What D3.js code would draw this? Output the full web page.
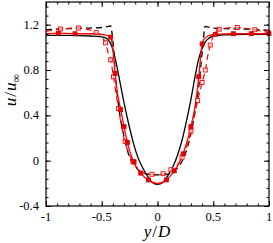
<!DOCTYPE html>
<html>
<head>
<meta charset="utf-8">
<script src="https://cdnjs.cloudflare.com/ajax/libs/d3/7.8.5/d3.min.js"></script>
<style>
  body { margin: 0; background: #fff; }
  text { font-family: "Liberation Serif", "DejaVu Serif", serif; fill: #000; }
</style>
</head>
<body>
<div id="chart"></div>
<script>
// profiles of u/u_inf across the wake, y/D from -1 to 1
const blackSolid = [
  [-1.0, 1.105], [-0.8, 1.105], [-0.6, 1.10], [-0.52, 1.095], [-0.47, 1.085], [-0.43, 1.05],
  [-0.40, 0.98], [-0.37, 0.86], [-0.34, 0.71], [-0.30, 0.51], [-0.26, 0.33], [-0.22, 0.17],
  [-0.18, 0.04], [-0.14, -0.05], [-0.10, -0.12], [-0.05, -0.19], [0, -0.21], [0.05, -0.19],
  [0.10, -0.12], [0.14, -0.05], [0.18, 0.05], [0.22, 0.18], [0.26, 0.35], [0.30, 0.54],
  [0.34, 0.76], [0.37, 0.90], [0.40, 0.99], [0.43, 1.05], [0.46, 1.08], [0.50, 1.10],
  [0.6, 1.11], [0.8, 1.115], [1.0, 1.115]
];

const blackDashed = [
  [-1.0, 1.155], [-0.8, 1.165], [-0.6, 1.17], [-0.5, 1.175], [-0.44, 1.185], [-0.42, 1.19],
  [-0.41, 1.14], [-0.395, 1.0], [-0.38, 0.8], [-0.364, 0.61], [-0.34, 0.42], [-0.30, 0.21],
  [-0.25, 0.03], [-0.20, -0.05], [-0.15, -0.10], [-0.08, -0.12], [0, -0.125], [0.08, -0.12],
  [0.15, -0.09], [0.20, -0.04], [0.25, 0.06], [0.30, 0.24], [0.34, 0.45], [0.37, 0.65],
  [0.39, 0.85], [0.41, 1.05], [0.425, 1.185], [0.45, 1.18], [0.5, 1.17], [0.6, 1.165],
  [0.8, 1.16], [1.0, 1.15]
];

const redSolid = [
  [-1.0, 1.12], [-0.89, 1.125], [-0.74, 1.12], [-0.58, 1.12], [-0.47, 1.11], [-0.42, 1.09],
  [-0.40, 0.98], [-0.38, 0.77], [-0.36, 0.60], [-0.33, 0.45], [-0.30, 0.30], [-0.27, 0.16],
  [-0.23, 0.03], [-0.20, -0.04], [-0.15, -0.11], [-0.10, -0.16], [-0.05, -0.19], [0, -0.20],
  [0.05, -0.19], [0.10, -0.15], [0.15, -0.09], [0.20, -0.01], [0.25, 0.12], [0.30, 0.30],
  [0.34, 0.50], [0.37, 0.74], [0.39, 0.95], [0.41, 1.06], [0.45, 1.10], [0.52, 1.115],
  [0.68, 1.12], [0.84, 1.12], [1.0, 1.12]
];
const redSolidMarks = [
  [-0.89, 1.125], [-0.74, 1.12], [-0.42, 1.09], [-0.38, 0.77],
  [-0.33, 0.45], [-0.30, 0.30], [-0.27, 0.16], [-0.21, -0.01], [-0.15, -0.11], [-0.08, -0.17],
  [0.08, -0.17], [0.15, -0.09], [0.23, 0.06], [0.30, 0.30], [0.37, 0.74], [0.40, 1.03],
  [0.52, 1.115], [0.68, 1.12], [0.84, 1.12], [1.0, 1.12]
];

const redDashed = [
  [-1.0, 1.14], [-0.87, 1.162], [-0.71, 1.17], [-0.55, 1.13], [-0.50, 1.09], [-0.466, 1.04],
  [-0.44, 0.94], [-0.42, 0.89], [-0.395, 0.74], [-0.37, 0.58], [-0.34, 0.40], [-0.31, 0.24],
  [-0.27, 0.10], [-0.22, -0.01], [-0.15, -0.09], [-0.08, -0.12], [0, -0.125], [0.08, -0.11],
  [0.15, -0.07], [0.22, 0.03], [0.28, 0.18], [0.32, 0.35], [0.36, 0.53], [0.40, 0.69],
  [0.43, 0.80], [0.45, 0.92], [0.473, 1.02], [0.50, 1.10], [0.553, 1.16], [0.715, 1.175],
  [0.873, 1.155], [1.0, 1.13]
];
const redDashedMarks = [
  [-0.87, 1.162], [-0.71, 1.17], [-0.55, 1.13], [-0.466, 1.04], [-0.42, 0.89], [-0.395, 0.74],
  [-0.35, 0.46], [-0.29, 0.17], [-0.22, -0.01], [-0.05, -0.12], [0.05, -0.115], [0.12, -0.08],
  [0.22, 0.03], [0.30, 0.26], [0.36, 0.53], [0.40, 0.69], [0.428, 0.80], [0.473, 1.02],
  [0.553, 1.16], [0.715, 1.175], [0.873, 1.155], [0.993, 1.13]
];

const xTicks = [-1, -0.5, 0, 0.5, 1];
const yTicks = [-0.4, 0, 0.4, 0.8, 1.2];

const width = 273;
const height = 243;
const plotLeft = 46, plotRight = 269, plotTop = 2, plotBottom = 206;

const xScale = d3.scaleLinear().domain([-1, 1]).range([plotLeft, plotRight]);
const yScale = d3.scaleLinear().domain([-0.4, 1.4]).range([plotBottom, plotTop]);

const svg = d3.select("#chart")
              .append("svg")
              .attr("width", width)
              .attr("height", height)

const line = d3.line()
               .x(d => xScale(d[0]))
               .y(d => yScale(d[1]))
               .curve(d3.curveMonotoneX)

const plot = svg.append("g")

plot.append("path")
    .datum(blackSolid)
    .attr("d", line)
    .attr("fill", "none")
    .attr("stroke", "#000")
    .attr("stroke-width", 1.3)

plot.append("path")
    .datum(blackDashed)
    .attr("d", line)
    .attr("fill", "none")
    .attr("stroke", "#000")
    .attr("stroke-width", 1.3)
    .attr("stroke-dasharray", "6,4")

plot.append("path")
    .datum(redDashed)
    .attr("d", line)
    .attr("fill", "none")
    .attr("stroke", "#f00")
    .attr("stroke-width", 1.2)
    .attr("stroke-dasharray", "6,4")

plot.append("path")
    .datum(redSolid)
    .attr("d", line)
    .attr("fill", "none")
    .attr("stroke", "#f00")
    .attr("stroke-width", 1.3)

const sq = 4;
plot.selectAll(".open")
    .data(redDashedMarks)
    .enter()
    .append("rect")
    .attr("class", "open")
    .attr("x", d => xScale(d[0]) - sq / 2)
    .attr("y", d => yScale(d[1]) - sq / 2)
    .attr("width", sq)
    .attr("height", sq)
    .attr("fill", "#fff")
    .attr("fill-opacity", 0.6)
    .attr("stroke", "#f00")
    .attr("stroke-width", 0.9)

plot.selectAll(".filled")
    .data(redSolidMarks)
    .enter()
    .append("rect")
    .attr("class", "filled")
    .attr("x", d => xScale(d[0]) - sq / 2)
    .attr("y", d => yScale(d[1]) - sq / 2)
    .attr("width", sq)
    .attr("height", sq)
    .attr("fill", "#e00")
    .attr("stroke", "#c00")
    .attr("stroke-width", 0.8)

// frame with inward ticks on all sides
const xMinor = d3.range(-10, 11).map(i => i / 10);
const yMinor = d3.range(-5, 23).map(i => i * 0.08);

const axisMakers = [
  { make: () => d3.axisBottom(xScale), t: `translate(0,${plotBottom})`, minor: xMinor, major: xTicks },
  { make: () => d3.axisTop(xScale), t: `translate(0,${plotTop})`, minor: xMinor, major: xTicks },
  { make: () => d3.axisLeft(yScale), t: `translate(${plotLeft},0)`, minor: yMinor, major: yTicks },
  { make: () => d3.axisRight(yScale), t: `translate(${plotRight},0)`, minor: yMinor, major: yTicks }
];

axisMakers.forEach(a => {
  svg.append("g")
     .attr("transform", a.t)
     .call(a.make().tickValues(a.minor).tickSizeInner(-2.5).tickSizeOuter(0).tickFormat(""))
  svg.append("g")
     .attr("transform", a.t)
     .call(a.make().tickValues(a.major).tickSizeInner(-5).tickSizeOuter(0).tickFormat(""))
})
svg.selectAll(".domain").remove()
svg.selectAll(".tick line").attr("stroke", "#000")

svg.append("rect")
   .attr("x", plotLeft)
   .attr("y", plotTop)
   .attr("width", plotRight - plotLeft)
   .attr("height", plotBottom - plotTop)
   .attr("fill", "none")
   .attr("stroke", "#000")
   .attr("stroke-width", 1.2)

// tick labels
svg.selectAll(".xlab")
   .data(xTicks)
   .enter()
   .append("text")
   .attr("x", d => xScale(d))
   .attr("y", 221)
   .attr("text-anchor", "middle")
   .attr("font-size", 12.5)
   .text(d => d)

svg.selectAll(".ylab")
   .data(yTicks)
   .enter()
   .append("text")
   .attr("x", 39)
   .attr("y", d => yScale(d) + 4)
   .attr("text-anchor", "end")
   .attr("font-size", 12.5)
   .text(d => d)

const xTitle = svg.append("text")
   .attr("x", 157)
   .attr("y", 237)
   .attr("text-anchor", "middle")
   .attr("font-size", 17)
   .attr("font-style", "italic")
xTitle.append("tspan").text("y")
xTitle.append("tspan").attr("font-style", "normal").attr("dx", 1).text("/")
xTitle.append("tspan").attr("dx", 1).text("D")

const yTitle = svg.append("text")
   .attr("transform", "translate(16,90) rotate(-90)")
   .attr("text-anchor", "middle")
   .attr("font-size", 17)
   .attr("font-style", "italic")
yTitle.append("tspan").text("u")
yTitle.append("tspan").attr("font-style", "normal").attr("dx", 1).text("/")
yTitle.append("tspan").attr("dx", 1).text("u")
yTitle.append("tspan").attr("font-size", 12).attr("font-style", "normal").attr("dy", 4).text("∞")
</script>
</body>
</html>
